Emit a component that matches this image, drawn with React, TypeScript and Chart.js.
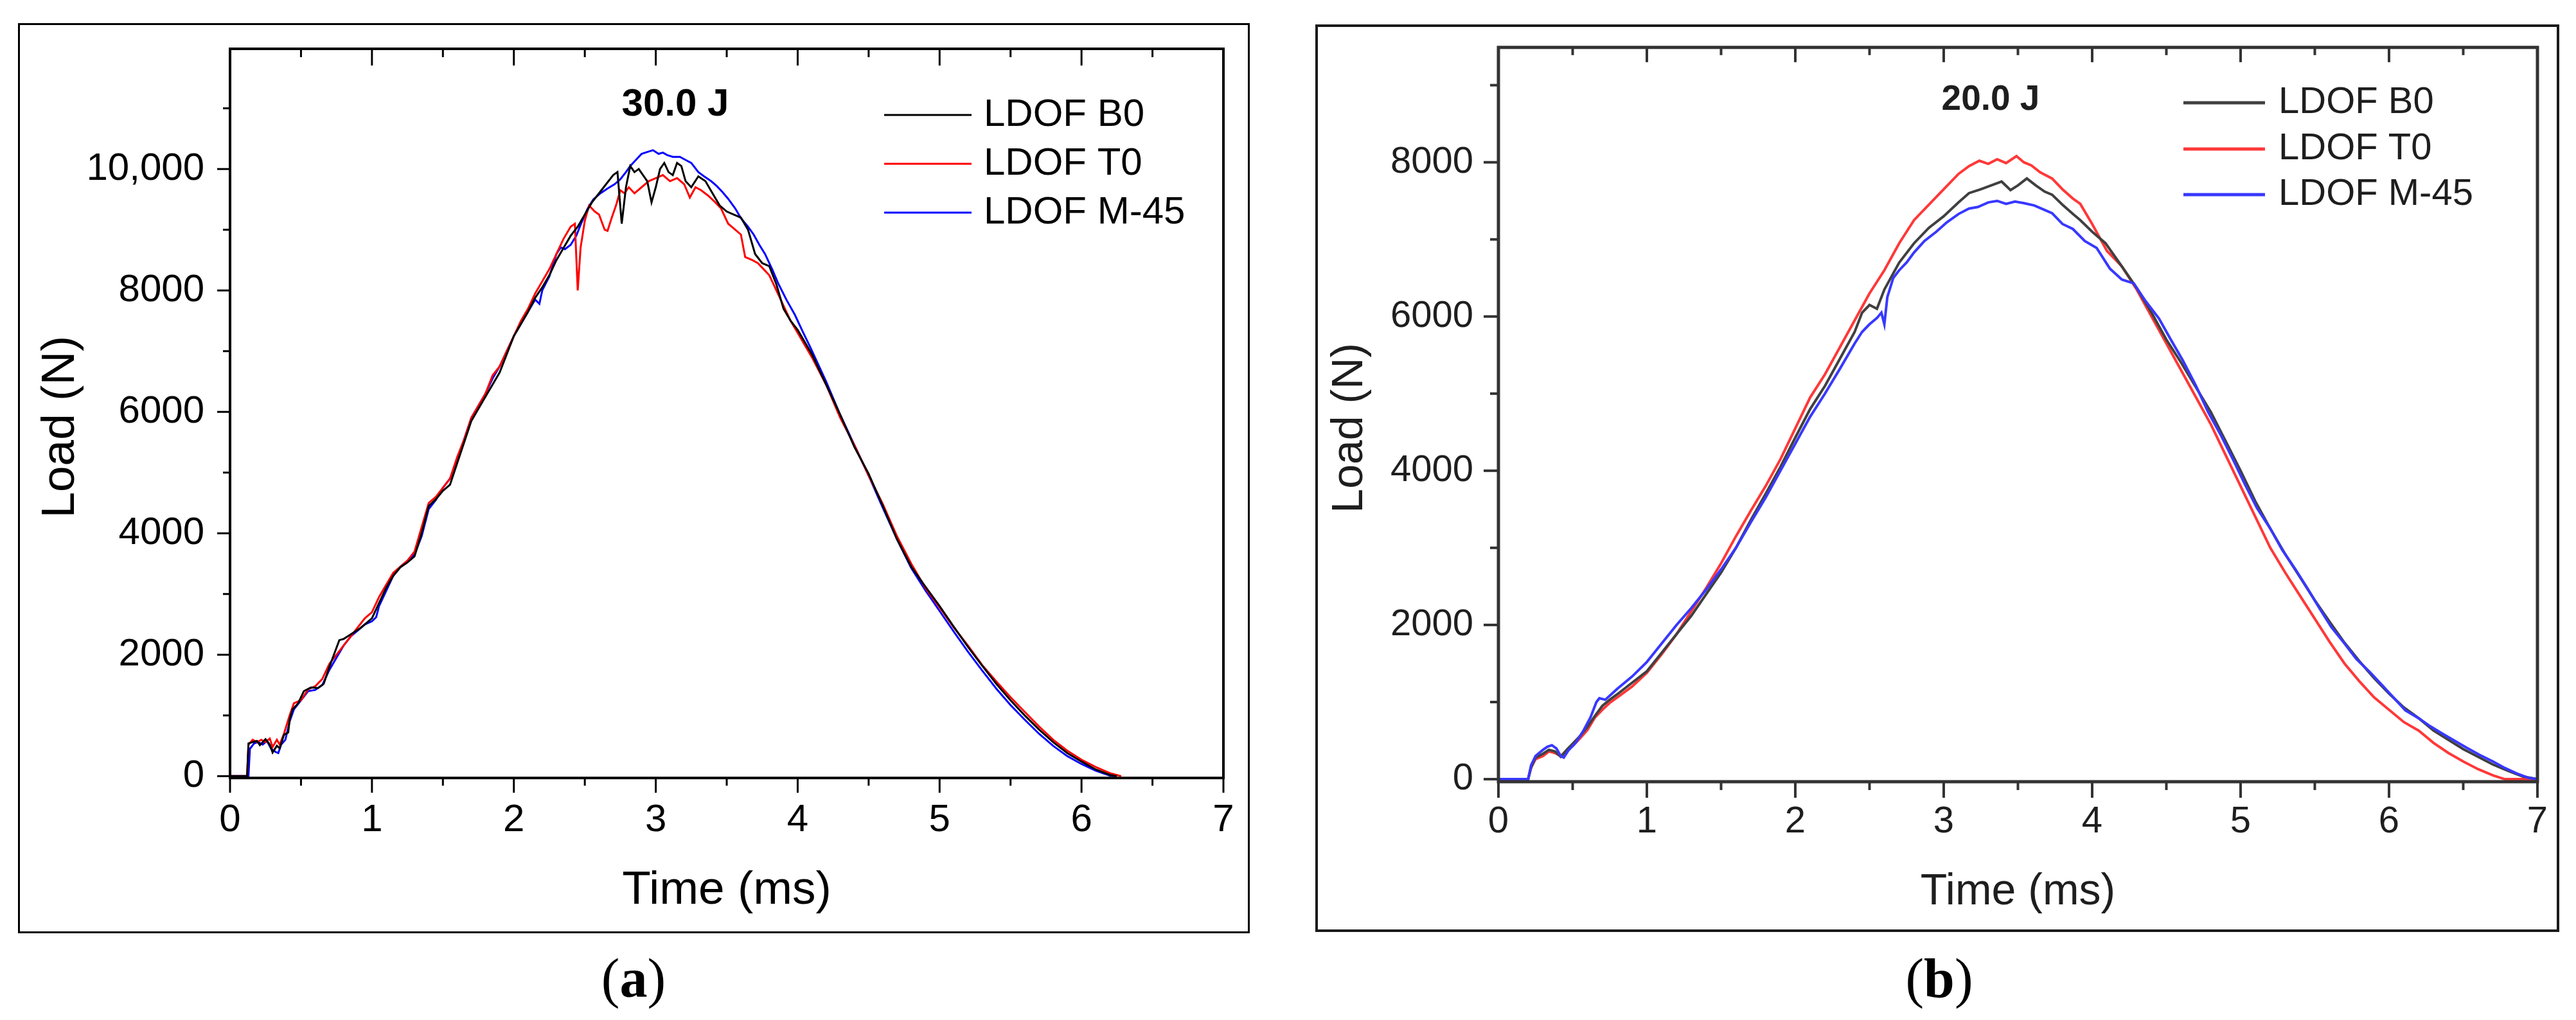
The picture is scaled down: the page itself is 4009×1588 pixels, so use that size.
import React, { useEffect, useRef } from "react";
import { Chart, registerables } from "chart.js";
Chart.register(...registerables);

type Pt = [number, number];

const SANS = '"Liberation Sans", Arial, Helvetica, sans-serif';
const SERIF = '"Liberation Serif", "Times New Roman", serif';

// ---------- shared labels / ticks ----------
const seriesLabels = ["LDOF B0", "LDOF T0", "LDOF M-45"];
const xTickValues = [0, 1, 2, 3, 4, 5, 6, 7];
const xMinorValues = [0.5, 1.5, 2.5, 3.5, 4.5, 5.5, 6.5];
const yTickValuesA = [0, 2000, 4000, 6000, 8000, 10000];
const yTickLabelsA = ["0", "2000", "4000", "6000", "8000", "10,000"];
const yMinorValuesA = [1000, 3000, 5000, 7000, 9000, 11000];
const yTickValuesB = [0, 2000, 4000, 6000, 8000];
const yTickLabelsB = ["0", "2000", "4000", "6000", "8000"];
const yMinorValuesB = [1000, 3000, 5000, 7000, 9000];

// ---------- panel (a): 30.0 J  [time ms, load N] ----------
const b0A: Pt[] = [[0,0],[0.12,0],[0.13,540],[0.16,560],[0.19,580],[0.21,510],[0.25,610],[0.28,520],[0.30,390],[0.33,500],[0.35,460],[0.38,680],[0.41,720],[0.42,930],[0.44,1100],[0.48,1200],[0.52,1400],[0.57,1460],[0.62,1450],[0.66,1520],[0.70,1800],[0.74,2050],[0.77,2240],[0.80,2260],[0.86,2350],[0.92,2440],[1.00,2600],[1.05,2850],[1.10,3100],[1.15,3300],[1.20,3440],[1.25,3520],[1.30,3620],[1.35,4000],[1.40,4450],[1.45,4560],[1.50,4700],[1.55,4800],[1.60,5150],[1.65,5500],[1.70,5850],[1.75,6050],[1.80,6250],[1.85,6450],[1.90,6650],[1.95,6950],[2.00,7250],[2.05,7450],[2.10,7650],[2.15,7880],[2.20,8050],[2.25,8250],[2.30,8500],[2.35,8700],[2.40,8900],[2.45,9050],[2.50,9250],[2.55,9450],[2.60,9600],[2.65,9750],[2.70,9900],[2.73,9950],[2.76,9100],[2.79,9700],[2.82,10050],[2.85,9950],[2.88,10000],[2.91,9900],[2.94,9800],[2.97,9450],[3.00,9700],[3.03,10000],[3.06,10100],[3.09,9950],[3.12,9900],[3.15,10100],[3.18,10050],[3.21,9800],[3.25,9700],[3.30,9880],[3.35,9800],[3.40,9600],[3.45,9400],[3.50,9300],[3.55,9250],[3.60,9200],[3.65,9000],[3.70,8600],[3.75,8450],[3.80,8400],[3.85,8100],[3.90,7700],[3.95,7500],[4.00,7350],[4.10,6950],[4.20,6450],[4.30,5950],[4.40,5420],[4.50,4980],[4.60,4450],[4.70,3900],[4.80,3450],[4.90,3120],[5.00,2800],[5.10,2460],[5.20,2130],[5.30,1820],[5.40,1520],[5.50,1250],[5.60,1000],[5.70,770],[5.80,560],[5.90,380],[6.00,240],[6.10,110],[6.20,20],[6.25,0]];
const t0A: Pt[] = [[0,0],[0.12,0],[0.13,520],[0.16,600],[0.19,560],[0.22,600],[0.25,560],[0.28,620],[0.30,480],[0.33,600],[0.35,520],[0.38,700],[0.42,1000],[0.45,1200],[0.50,1250],[0.55,1430],[0.60,1480],[0.65,1600],[0.70,1850],[0.75,2000],[0.80,2150],[0.85,2300],[0.90,2450],[0.95,2600],[1.00,2700],[1.05,2950],[1.10,3150],[1.15,3350],[1.20,3450],[1.25,3550],[1.30,3700],[1.35,4100],[1.40,4500],[1.45,4600],[1.50,4750],[1.55,4900],[1.60,5250],[1.65,5550],[1.70,5900],[1.75,6100],[1.80,6300],[1.85,6600],[1.90,6750],[1.95,7000],[2.00,7250],[2.05,7500],[2.10,7700],[2.15,7950],[2.20,8150],[2.25,8350],[2.30,8600],[2.35,8850],[2.40,9050],[2.43,9100],[2.45,8000],[2.47,8700],[2.50,9150],[2.53,9400],[2.57,9300],[2.60,9250],[2.64,9000],[2.66,8980],[2.69,9200],[2.72,9400],[2.75,9650],[2.78,9600],[2.81,9700],[2.85,9600],[2.90,9700],[2.95,9800],[3.00,9850],[3.05,9900],[3.10,9800],[3.15,9850],[3.20,9750],[3.24,9530],[3.28,9700],[3.32,9650],[3.37,9560],[3.42,9450],[3.46,9350],[3.51,9100],[3.56,9000],[3.60,8920],[3.63,8550],[3.68,8500],[3.72,8450],[3.76,8350],[3.80,8250],[3.85,8000],[3.90,7750],[3.95,7500],[4.00,7300],[4.10,6900],[4.20,6450],[4.30,5900],[4.40,5450],[4.50,4950],[4.60,4480],[4.70,3950],[4.80,3500],[4.90,3100],[5.00,2780],[5.10,2450],[5.20,2150],[5.30,1830],[5.40,1560],[5.50,1300],[5.60,1060],[5.70,820],[5.80,600],[5.90,420],[6.00,270],[6.10,150],[6.20,50],[6.28,0]];
const m45A: Pt[] = [[0,0],[0.13,0],[0.14,450],[0.17,540],[0.20,560],[0.23,520],[0.26,580],[0.29,450],[0.32,400],[0.34,380],[0.36,520],[0.39,600],[0.42,900],[0.45,1100],[0.50,1250],[0.55,1400],[0.60,1420],[0.65,1500],[0.70,1750],[0.75,1950],[0.80,2150],[0.85,2300],[0.90,2400],[0.95,2500],[1.00,2550],[1.03,2620],[1.05,2800],[1.10,3050],[1.15,3300],[1.20,3450],[1.25,3550],[1.30,3650],[1.35,3950],[1.40,4400],[1.45,4550],[1.50,4750],[1.55,4900],[1.60,5200],[1.65,5550],[1.70,5900],[1.75,6100],[1.80,6300],[1.85,6550],[1.90,6750],[1.95,7000],[2.00,7250],[2.05,7450],[2.10,7650],[2.15,7850],[2.18,7780],[2.20,8000],[2.25,8230],[2.30,8600],[2.33,8710],[2.36,8680],[2.40,8750],[2.44,8900],[2.47,9080],[2.52,9350],[2.56,9500],[2.61,9600],[2.66,9680],[2.71,9750],[2.75,9830],[2.79,9950],[2.82,10050],[2.86,10150],[2.90,10250],[2.94,10280],[2.98,10310],[3.02,10250],[3.05,10270],[3.08,10230],[3.12,10200],[3.17,10200],[3.21,10150],[3.25,10100],[3.30,9950],[3.34,9880],[3.39,9800],[3.43,9720],[3.47,9620],[3.51,9510],[3.56,9350],[3.60,9190],[3.65,9050],[3.69,8920],[3.73,8750],[3.77,8600],[3.82,8350],[3.86,8130],[3.92,7850],[3.98,7600],[4.04,7300],[4.09,7060],[4.20,6500],[4.30,5950],[4.40,5450],[4.50,4950],[4.60,4420],[4.70,3900],[4.80,3430],[4.90,3060],[5.00,2720],[5.10,2380],[5.20,2050],[5.30,1740],[5.40,1440],[5.50,1170],[5.60,930],[5.70,700],[5.80,500],[5.90,330],[6.00,200],[6.10,90],[6.20,10],[6.24,0]];

// ---------- panel (b): 20.0 J  [time ms, load N] ----------
const b0B: Pt[] = [[0,0],[0.20,0],[0.22,150],[0.25,280],[0.30,330],[0.34,380],[0.38,360],[0.42,290],[0.46,380],[0.50,460],[0.55,560],[0.60,680],[0.65,820],[0.70,950],[0.75,1030],[0.80,1100],[0.90,1250],[1.00,1400],[1.10,1640],[1.20,1880],[1.30,2120],[1.40,2400],[1.50,2680],[1.60,3000],[1.70,3360],[1.80,3700],[1.90,4050],[2.00,4430],[2.10,4800],[2.20,5100],[2.30,5450],[2.40,5800],[2.45,6050],[2.50,6150],[2.55,6100],[2.60,6350],[2.70,6700],[2.80,6950],[2.90,7150],[3.00,7300],[3.10,7480],[3.17,7600],[3.25,7650],[3.32,7700],[3.39,7750],[3.45,7640],[3.50,7700],[3.56,7790],[3.62,7700],[3.68,7620],[3.73,7580],[3.80,7450],[3.87,7330],[3.92,7250],[4.00,7100],[4.09,6950],[4.20,6650],[4.30,6370],[4.40,6050],[4.50,5700],[4.60,5400],[4.70,5080],[4.80,4760],[4.90,4380],[5.00,4000],[5.10,3600],[5.20,3250],[5.30,2920],[5.40,2620],[5.50,2320],[5.60,2040],[5.70,1770],[5.80,1530],[5.90,1310],[6.00,1110],[6.10,930],[6.20,790],[6.30,630],[6.40,510],[6.50,390],[6.60,290],[6.70,190],[6.80,110],[6.90,35],[7.00,0]];
const t0B: Pt[] = [[0,0],[0.20,0],[0.22,150],[0.25,260],[0.30,300],[0.34,360],[0.38,340],[0.42,300],[0.46,370],[0.50,430],[0.55,530],[0.60,640],[0.65,800],[0.70,900],[0.75,990],[0.80,1060],[0.90,1200],[1.00,1380],[1.10,1620],[1.20,1880],[1.30,2180],[1.40,2480],[1.50,2800],[1.60,3150],[1.70,3480],[1.80,3800],[1.90,4150],[2.00,4550],[2.10,4950],[2.20,5250],[2.30,5600],[2.40,5950],[2.50,6300],[2.60,6600],[2.70,6950],[2.80,7250],[2.90,7450],[3.00,7650],[3.10,7850],[3.17,7950],[3.24,8020],[3.30,7980],[3.36,8040],[3.42,7990],[3.49,8080],[3.54,8000],[3.59,7960],[3.65,7870],[3.73,7790],[3.80,7650],[3.87,7530],[3.92,7460],[4.00,7200],[4.10,6850],[4.20,6650],[4.30,6350],[4.40,6000],[4.50,5650],[4.60,5300],[4.70,4950],[4.80,4600],[4.90,4200],[5.00,3800],[5.10,3400],[5.20,3000],[5.30,2680],[5.40,2380],[5.50,2080],[5.60,1780],[5.70,1500],[5.80,1270],[5.90,1060],[6.00,900],[6.10,740],[6.20,630],[6.30,470],[6.40,340],[6.50,230],[6.60,130],[6.70,50],[6.78,0],[7.00,0]];
const m45B: Pt[] = [[0,0],[0.20,0],[0.22,180],[0.25,300],[0.30,380],[0.33,420],[0.36,440],[0.39,400],[0.42,300],[0.44,280],[0.47,370],[0.52,470],[0.57,620],[0.62,800],[0.66,1000],[0.68,1050],[0.72,1030],[0.76,1100],[0.80,1170],[0.90,1330],[1.00,1520],[1.10,1760],[1.20,2000],[1.30,2220],[1.40,2460],[1.50,2720],[1.60,3000],[1.70,3330],[1.80,3650],[1.90,4000],[2.00,4350],[2.10,4700],[2.20,5000],[2.30,5320],[2.40,5650],[2.45,5800],[2.50,5900],[2.55,5980],[2.58,6050],[2.60,5900],[2.62,6250],[2.66,6500],[2.70,6600],[2.75,6700],[2.80,6830],[2.87,6980],[2.95,7100],[3.02,7220],[3.10,7330],[3.17,7400],[3.23,7420],[3.30,7480],[3.36,7500],[3.42,7460],[3.48,7490],[3.54,7470],[3.61,7440],[3.67,7390],[3.73,7340],[3.80,7200],[3.87,7135],[3.95,6980],[4.03,6890],[4.12,6620],[4.20,6480],[4.28,6430],[4.36,6200],[4.45,5975],[4.53,5700],[4.61,5433],[4.70,5100],[4.78,4767],[4.87,4450],[4.95,4142],[5.03,3820],[5.11,3517],[5.20,3250],[5.28,2975],[5.37,2720],[5.45,2475],[5.53,2220],[5.61,1975],[5.70,1760],[5.78,1558],[5.87,1390],[5.95,1225],[6.03,1060],[6.11,892],[6.20,790],[6.28,683],[6.36,590],[6.44,500],[6.52,410],[6.61,315],[6.70,230],[6.78,145],[6.86,75],[6.94,17],[7.00,0]];

// ---------- drawing plugin: frame, ticks, y title, inset title, legend ----------
const framePlugin = {
  id: "frameTicks",
  afterDraw(chart: any, _args: any, o: any) {
    const { ctx, chartArea: ca, scales } = chart;
    const xs = scales.x;
    const ys = scales.y;
    ctx.save();
    ctx.strokeStyle = o.axisColor;
    ctx.lineCap = "butt";
    ctx.lineWidth = o.axisWidth;
    ctx.strokeRect(ca.left, ca.top, ca.right - ca.left, ca.bottom - ca.top);
    const seg = (x1: number, y1: number, x2: number, y2: number) => {
      ctx.beginPath();
      ctx.moveTo(x1, y1);
      ctx.lineTo(x2, y2);
      ctx.stroke();
    };
    ctx.lineWidth = o.tickWidth;
    xTickValues.forEach((v) => {
      const x = xs.getPixelForValue(v);
      seg(x, ca.bottom, x, ca.bottom + o.len.bottom);
      if (v > 0 && v < 7) seg(x, ca.top, x, ca.top + o.len.top);
    });
    xMinorValues.forEach((v) => {
      const x = xs.getPixelForValue(v);
      seg(x, ca.bottom, x, ca.bottom + o.len.bottomMinor);
      seg(x, ca.top, x, ca.top + o.len.topMinor);
    });
    o.yMajor.forEach((v: number) => {
      const y = ys.getPixelForValue(v);
      seg(ca.left, y, ca.left - o.len.left, y);
    });
    o.yMinor.forEach((v: number) => {
      const y = ys.getPixelForValue(v);
      seg(ca.left, y, ca.left - o.len.leftMinor, y);
    });
    ctx.fillStyle = o.textColor;
    ctx.textAlign = "center";
    ctx.textBaseline = "middle";
    // y-axis title (rotated)
    ctx.save();
    ctx.font = o.yTitleFont;
    ctx.translate(o.yTitleX, (ca.top + ca.bottom) / 2 + o.yTitleShift);
    ctx.rotate(-Math.PI / 2);
    ctx.fillText("Load (N)", 0, 0);
    ctx.restore();
    // inset title
    ctx.font = o.titleFont;
    ctx.fillText(o.title, o.titleX, o.titleY);
    // legend
    ctx.font = o.legendFont;
    ctx.textAlign = "left";
    chart.data.datasets.forEach((ds: any, i: number) => {
      const y = o.legendYs[i];
      ctx.strokeStyle = ds.borderColor;
      ctx.lineWidth = o.legendLineWidth;
      seg(o.legendX1, y, o.legendX2, y);
      ctx.fillStyle = o.textColor;
      ctx.fillText(ds.label, o.legendTextX, y);
    });
    ctx.restore();
  },
};

interface PanelProps {
  canvasLeft: number;
  canvasWidth: number;
  series: Pt[][];
  colors: string[];
  orders: number[];
  lineWidth: number;
  yMin: number;
  yMax: number;
  yTicks: number[];
  yLabels: string[];
  yMinor: number[];
  padTop: number;
  padRight: number;
  yScaleWidth: number;
  xScaleHeight: number;
  tickSize: number;
  xTickPad: number;
  yTickPad: number;
  axisTitleSize: number;
  xTitlePad: number;
  textColor: string;
  blur: number;
  frame: any;
}

const CANVAS_H = 1588;

function Panel(p: PanelProps) {
  const ref = useRef<HTMLCanvasElement | null>(null);
  useEffect(() => {
    if (!ref.current) return;
    const chart = new Chart(ref.current, {
      type: "line",
      data: {
        datasets: p.series.map((s, i) => ({
          label: seriesLabels[i],
          data: s.map(([t, l]) => ({ x: t, y: l })),
          borderColor: p.colors[i],
          backgroundColor: p.colors[i],
          borderWidth: p.lineWidth,
          pointRadius: 0,
          tension: 0,
          fill: false,
          order: p.orders[i],
        })),
      },
      options: {
        animation: false,
        responsive: false,
        devicePixelRatio: 1,
        events: [],
        layout: { padding: { left: 0, top: p.padTop, right: p.padRight, bottom: 0 } },
        plugins: {
          legend: { display: false },
          tooltip: { enabled: false },
          title: { display: false },
          frameTicks: {
            ...p.frame,
            yMajor: p.yTicks,
            yMinor: p.yMinor,
            yTitleFont: `${p.axisTitleSize}px ${SANS}`,
          },
        } as any,
        scales: {
          x: {
            type: "linear",
            min: 0,
            max: 7,
            grid: { display: false, drawTicks: false },
            border: { display: false },
            afterBuildTicks: (s: any) => {
              s.ticks = xTickValues.map((v) => ({ value: v }));
            },
            afterFit: (s: any) => {
              s.height = p.xScaleHeight;
            },
            ticks: {
              autoSkip: false,
              maxRotation: 0,
              padding: p.xTickPad,
              color: p.textColor,
              font: { family: SANS, size: p.tickSize },
              callback: (v: any) => String(v),
            },
            title: {
              display: true,
              text: "Time (ms)",
              color: p.textColor,
              font: { family: SANS, size: p.axisTitleSize },
              padding: { top: 0, bottom: p.xTitlePad },
            },
          },
          y: {
            type: "linear",
            min: p.yMin,
            max: p.yMax,
            grid: { display: false, drawTicks: false },
            border: { display: false },
            afterBuildTicks: (s: any) => {
              s.ticks = p.yTicks.map((v) => ({ value: v }));
            },
            afterFit: (s: any) => {
              s.width = p.yScaleWidth;
            },
            ticks: {
              autoSkip: false,
              padding: p.yTickPad,
              color: p.textColor,
              font: { family: SANS, size: p.tickSize },
              callback: (v: any) => {
                const k = p.yTicks.indexOf(Number(v));
                return k >= 0 ? p.yLabels[k] : "";
              },
            },
            title: { display: false },
          },
        },
      },
      plugins: [framePlugin as any],
    });
    return () => chart.destroy();
  }, []);
  return (
    <canvas
      ref={ref}
      width={p.canvasWidth}
      height={CANVAS_H}
      style={{
        position: "absolute",
        left: p.canvasLeft,
        top: 0,
        width: p.canvasWidth,
        height: CANVAS_H,
        zIndex: 2,
        filter: p.blur > 0 ? `blur(${p.blur}px)` : undefined,
      }}
    />
  );
}

const panelA: PanelProps = {
  canvasLeft: 0,
  canvasWidth: 2000,
  series: [b0A, t0A, m45A],
  colors: ["#000000", "#ff0000", "#0000ff"],
  orders: [0, 1, 2],
  lineWidth: 3,
  yMin: -30,
  yMax: 11980,
  yTicks: yTickValuesA,
  yLabels: yTickLabelsA,
  yMinor: yMinorValuesA,
  padTop: 68.3,
  padRight: 96,
  yScaleWidth: 358,
  xScaleHeight: 376.8,
  tickSize: 60,
  xTickPad: 30,
  yTickPad: 40,
  axisTitleSize: 73,
  xTitlePad: 157,
  textColor: "#000000",
  blur: 0,
  frame: {
    axisColor: "#000000",
    axisWidth: 4,
    tickWidth: 3,
    len: { bottom: 23, bottomMinor: 12, top: 26, topMinor: 13, left: 20, leftMinor: 11 },
    yTitleX: 95,
    yTitleShift: 21,
    title: "30.0 J",
    titleX: 1051,
    titleY: 163,
    titleFont: `bold 60px ${SANS}`,
    legendFont: `60px ${SANS}`,
    legendX1: 1376,
    legendX2: 1512,
    legendTextX: 1531,
    legendYs: [179, 255, 331],
    legendLineWidth: 3,
    textColor: "#000000",
  },
};

const panelB: PanelProps = {
  canvasLeft: 2000,
  canvasWidth: 2009,
  series: [b0B, t0B, m45B],
  colors: ["#404040", "#ff3838", "#3838ff"],
  orders: [1, 2, 0],
  lineWidth: 4,
  yMin: -33,
  yMax: 9490,
  yTicks: yTickValuesB,
  yLabels: yTickLabelsB,
  yMinor: yMinorValuesB,
  padTop: 61.2,
  padRight: 60,
  yScaleWidth: 332,
  xScaleHeight: 371,
  tickSize: 58,
  xTickPad: 28,
  yTickPad: 39,
  axisTitleSize: 68,
  xTitlePad: 158,
  textColor: "#1e1e1e",
  blur: 0.6,
  frame: {
    axisColor: "#333333",
    axisWidth: 5,
    tickWidth: 4,
    len: { bottom: 25, bottomMinor: 13, top: 23, topMinor: 12, left: 23, leftMinor: 13 },
    yTitleX: 101,
    yTitleShift: 21,
    title: "20.0 J",
    titleX: 1098,
    titleY: 156,
    titleFont: `bold 55px ${SANS}`,
    legendFont: `58px ${SANS}`,
    legendX1: 1398,
    legendX2: 1525,
    legendTextX: 1546,
    legendYs: [160, 232, 303],
    legendLineWidth: 5,
    textColor: "#1e1e1e",
  },
};

function Caption({ cx, letter }: { cx: number; letter: string }) {
  return (
    <div
      style={{
        position: "absolute",
        left: cx - 200,
        top: 1480,
        width: 400,
        textAlign: "center",
        fontFamily: SERIF,
        fontSize: 86,
        lineHeight: "86px",
        color: "#000",
      }}
    >
      (<b>{letter}</b>)
    </div>
  );
}

export default function App() {
  return (
    <div
      style={{
        position: "absolute",
        left: 0,
        top: 0,
        width: 4009,
        height: 1588,
        overflow: "hidden",
        background: "#ffffff",
      }}
    >
      <div
        style={{
          position: "absolute",
          left: 28,
          top: 36,
          width: 1917,
          height: 1417,
          border: "3px solid #000",
          boxSizing: "border-box",
        }}
      />
      <div
        style={{
          position: "absolute",
          left: 2047,
          top: 38,
          width: 1936,
          height: 1413,
          border: "4px solid #1a1a1a",
          boxSizing: "border-box",
        }}
      />
      <Panel {...panelA} />
      <Panel {...panelB} />
      <Caption cx={986} letter="a" />
      <Caption cx={3018} letter="b" />
    </div>
  );
}
